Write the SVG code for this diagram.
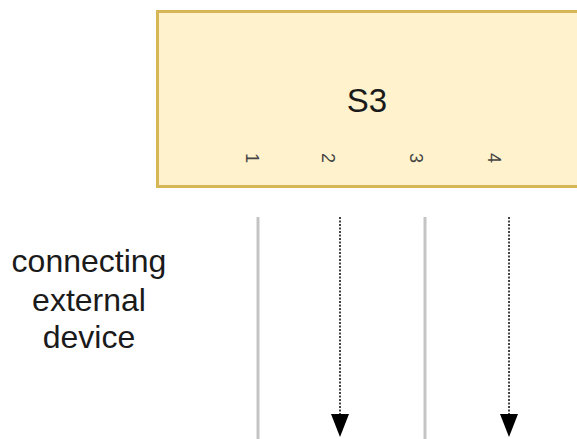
<svg xmlns="http://www.w3.org/2000/svg" width="577" height="439" viewBox="0 0 577 439">
<style>
.lbl{font-family:"Liberation Sans",Arial,sans-serif;fill:#1a1a1a;text-anchor:middle}
.pin{font-family:"Liberation Sans",Arial,sans-serif;fill:#444;text-anchor:middle;font-size:18px}
.solid{stroke:#c4c4c4;stroke-width:3;fill:none}
.dot{stroke:#444;stroke-width:2;stroke-dasharray:2 1.5;fill:none}
</style>
<g id="s3">
<rect x="157.5" y="11.5" width="422" height="175" fill="#fff2cc" stroke="#d6b656" stroke-width="3"/>
<text class="lbl" x="367" y="112" font-size="33">S3</text>
<text class="pin" transform="translate(252 158) rotate(90)" y="6">1</text>
<text class="pin" transform="translate(328 158) rotate(90)" y="6">2</text>
<text class="pin" transform="translate(416 158) rotate(90)" y="6">3</text>
<text class="pin" transform="translate(494 158) rotate(90)" y="6">4</text>
</g>
<g id="label">
<text class="lbl" font-size="32" x="89" y="272">connecting</text>
<text class="lbl" font-size="32" x="89" y="311">external</text>
<text class="lbl" font-size="32" x="89" y="348">device</text>
</g>
<g id="connectors">
<line class="solid" x1="258" y1="217" x2="258" y2="439"/>
<line class="solid" x1="425" y1="217" x2="425" y2="439"/>
<line class="dot" x1="340" y1="217" x2="340" y2="414"/>
<line class="dot" x1="509" y1="217" x2="509" y2="414"/>
<path d="M331,414 L349,414 L340,437 Z" fill="#000"/>
<path d="M500,414 L518,414 L509,437 Z" fill="#000"/>
</g>
</svg>
